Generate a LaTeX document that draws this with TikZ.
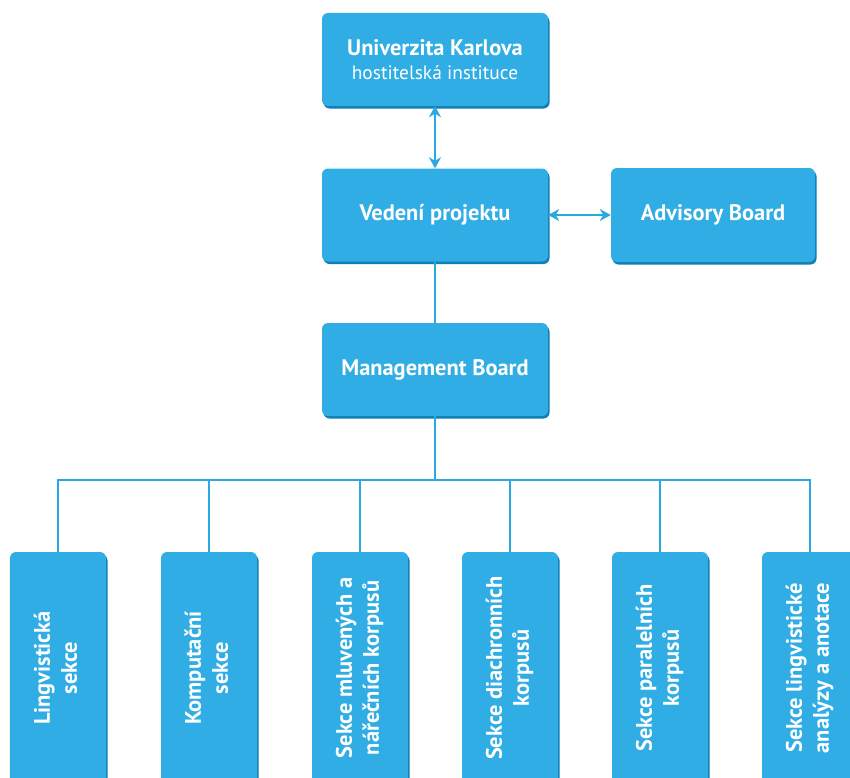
\documentclass[tikz,border=0pt]{standalone}
\usepackage{fontspec}
\setmainfont{PT Sans}
\usepackage{graphicx}
\usetikzlibrary{arrows.meta,shadows}
\definecolor{boxblue}{HTML}{30ADE4}
\definecolor{boxdark}{HTML}{0F7FB5}
\definecolor{lineblue}{HTML}{29A9E0}
\tikzset{
  orgbox/.style={rectangle, rounded corners=6bp, fill=boxblue, text=white,
    draw=none, inner sep=0pt, align=center,
    drop shadow={shadow xshift=1.5bp, shadow yshift=-2.5bp, fill=boxdark, opacity=1},
    font=\fontsize{22.5}{27}\selectfont\bfseries},
  wide/.style={orgbox, minimum width=226bp, minimum height=93bp},
  adv/.style={orgbox, minimum width=204bp, minimum height=94bp},
  sect/.style={orgbox, minimum width=96bp, minimum height=232bp},
  conn/.style={draw=lineblue, line width=2.8bp},
  biarrow/.style={conn, {Stealth[length=11bp,width=12bp,inset=3.5bp]}-{Stealth[length=11bp,width=12bp,inset=3.5bp]}},
}
\newcommand{\vtext}[1]{\rotatebox{90}{\begin{tabular}{@{}c@{}}#1\end{tabular}}}
\begin{document}
\begin{tikzpicture}[x=1bp,y=-1bp]
\clip (0,0) rectangle (850,778);
\fill[white] (0,0) rectangle (850,778);
\node[wide] (uk) at (435,59.5) {Univerzita Karlova\\[-3bp]{\fontsize{19.5}{23}\selectfont\mdseries hostitelská instituce}};
\node[wide] (vp) at (435,215) {Vedení projektu};
\node[adv] (ab) at (713,215) {Advisory Board};
\node[wide] (mb) at (435,369.5) {Management Board};
\node[sect] (s1) at (58,668) {\vtext{Lingvistická\\sekce}};
\node[sect] (s2) at (209,668) {\vtext{Komputační\\sekce}};
\node[sect] (s3) at (360,668) {\vtext{Sekce mluvených a\\nářečních korpusů}};
\node[sect] (s4) at (510,668) {\vtext{Sekce diachronních\\korpusů}};
\node[sect] (s5) at (660,668) {\vtext{Sekce paralelních\\korpusů}};
\node[sect] (s6) at (810,668) {\vtext{Sekce lingvistické\\analýzy a anotace}};
\coordinate (bus) at (435,480);
\draw[biarrow] (uk.south) -- (vp.north);
\draw[biarrow] (vp.east) -- (ab.west);
\draw[conn] (vp.south) -- (mb.north);
\draw[conn] (mb.south) -- (bus);
\draw[conn] (s1.north) |- (bus) -| (s6.north);
\foreach \s in {s2,s3,s4,s5} \draw[conn] (\s.north) -- (\s.north |- bus);
\end{tikzpicture}
\end{document}
